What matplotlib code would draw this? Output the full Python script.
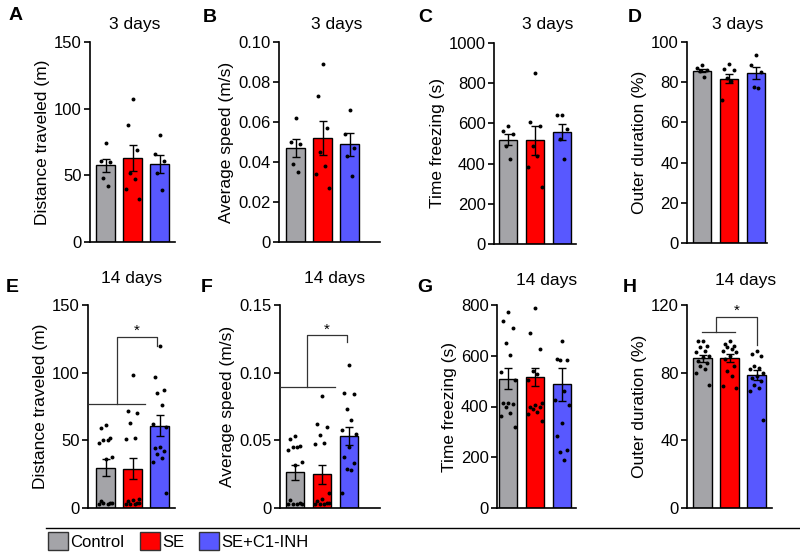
import matplotlib

matplotlib.use("Agg")
import matplotlib.pyplot as plt
from matplotlib.patches import Patch
from matplotlib.lines import Line2D
import numpy as np

plt.rcParams["font.family"] = ["Liberation Sans", "DejaVu Sans"]

groups = ["Control", "SE", "SE+C1-INH"]
colors = ["#a4a4a8", "#ff0000", "#5858ff"]

# --- data (dots per group, bar mean, SEM) ---
dots_A = [[74, 61, 60, 48, 42],
          [107, 88, 69, 52, 47, 40, 32],
          [80, 66, 61, 52, 39]]
mean_A = [57.4, 63.0, 58.6]
sem_A = [5.0, 10.0, 7.0]

dots_B = [[0.062, 0.050, 0.049, 0.039, 0.035],
          [0.089, 0.073, 0.057, 0.045, 0.038, 0.034, 0.027],
          [0.066, 0.054, 0.047, 0.043, 0.033]]
mean_B = [0.0472, 0.0522, 0.0488]
sem_B = [0.0045, 0.0085, 0.0056]

dots_C = [[585, 564, 548, 486, 425],
          [851, 607, 585, 486, 436, 381, 284],
          [640, 640, 572, 520, 423]]
mean_C = [519, 516, 557]
sem_C = [28, 72, 40]

dots_D = [[88.7, 87, 86, 85.4, 82.6],
          [89, 86.5, 86, 82, 80.8, 71.3],
          [93.5, 88.7, 85, 77.6, 77.3]]
mean_D = [85.7, 81.8, 84.6]
sem_D = [0.8, 2.3, 3.2]

dots_E = [[61, 59, 52, 50, 50, 48, 38, 36, 5, 4, 4, 3, 3, 4],
          [98, 72, 70, 63, 52, 51, 7, 6, 5, 4, 3, 3, 3, 4],
          [120, 97, 87, 85, 76, 62, 60, 45, 44, 42, 40, 37, 34, 11]]
mean_E = [29.9, 29.1, 60.7]
sem_E = [6.2, 7.9, 7.8]

dots_F = [[0.053, 0.051, 0.046, 0.045, 0.045, 0.043, 0.034, 0.032, 0.006, 0.004, 0.003, 0.003, 0.003, 0.003],
          [0.083, 0.062, 0.060, 0.054, 0.048, 0.047, 0.011, 0.007, 0.005, 0.004, 0.003, 0.003, 0.003, 0.004],
          [0.106, 0.085, 0.084, 0.073, 0.065, 0.058, 0.055, 0.045, 0.038, 0.033, 0.029, 0.028, 0.011]]
mean_F = [0.0264, 0.0249, 0.0533]
sem_F = [0.0056, 0.0072, 0.0068]

dots_G = [[772, 738, 708, 650, 603, 537, 505, 415, 412, 408, 400, 375, 362, 320],
          [790, 690, 625, 540, 530, 505, 412, 405, 400, 398, 392, 378, 370, 342],
          [660, 588, 585, 582, 463, 424, 405, 335, 283, 230, 220, 188]]
mean_G = [510, 517, 487]
sem_G = [41, 35, 64]

dots_H = [[99, 99, 96, 95, 93, 92, 90, 89, 87, 86, 84, 82, 80, 73],
          [99, 97, 96, 95, 94, 93, 92, 90, 88, 84, 81, 78, 72, 71],
          [93, 91, 90, 84, 83, 82, 80, 78, 77, 75, 73, 71, 69, 52]]
mean_H = [88.4, 88.6, 78.5]
sem_H = [2.2, 2.4, 3.0]

ylabels = {
    "A": "Distance traveled (m)", "B": "Average speed (m/s)",
    "C": "Time freezing (s)", "D": "Outer duration (%)",
    "E": "Distance traveled (m)", "F": "Average speed (m/s)",
    "G": "Time freezing (s)", "H": "Outer duration (%)",
}
yticks = {
    "A": [0, 50, 100, 150], "B": [0, 0.02, 0.04, 0.06, 0.08, 0.10],
    "C": [0, 200, 400, 600, 800, 1000], "D": [0, 20, 40, 60, 80, 100],
    "E": [0, 50, 100, 150], "F": [0, 0.05, 0.10, 0.15],
    "G": [0, 200, 400, 600, 800], "H": [0, 40, 80, 120],
}
ytick_labels = {
    "B": ["0", "0.02", "0.04", "0.06", "0.08", "0.10"],
    "F": ["0", "0.05", "0.10", "0.15"],
}

W, H = 800, 555
fig = plt.figure(figsize=(8, 5.55), dpi=100)

# geometry in pixels: left, right, top, bottom, centre of first bar
geom = {
    "A": (90, 175, 42, 242, 105.5), "B": (279, 380, 42, 242, 295.5),
    "C": (494, 576, 43, 244, 508), "D": (687, 767, 42, 243, 702),
    "E": (88, 175, 305, 508, 105.5), "F": (280, 380, 305, 508, 295),
    "G": (497, 576, 305, 508, 508), "H": (687, 772, 305, 508, 702.5),
}
letter_pos = {"A": (16, 16), "B": (210, 17), "C": (425, 18), "D": (635, 18),
              "E": (12, 287), "F": (207, 288), "G": (425, 288), "H": (630, 288)}
title_pos = {"A": (135, 25), "B": (337, 25), "C": (548, 25), "D": (738, 25),
             "E": (132, 279), "F": (335, 279), "G": (547, 281), "H": (746, 281)}

# significance brackets: (lower line x0, x1, y), (vertical x, top y), (right x, drop y), star (x, y)
brackets = {
    "E": ((-0.61, 1.46, 76.5), (0.41, 126.6), (1.9, 120), (1.15, 131)),
    "F": ((-0.59, 1.48, 0.0896), (0.43, 0.128), (1.91, 0.123), (1.17, 0.1315)),
    "H": ((-0.03, 1.2, 104.2), (0.5, 113.1), (2.0, 96.3), (1.27, 116.5)),
}

panels = {
    "A": (dots_A, mean_A, sem_A, 150), "B": (dots_B, mean_B, sem_B, 0.10),
    "C": (dots_C, mean_C, sem_C, 1000), "D": (dots_D, mean_D, sem_D, 100),
    "E": (dots_E, mean_E, sem_E, 150), "F": (dots_F, mean_F, sem_F, 0.15),
    "G": (dots_G, mean_G, sem_G, 800), "H": (dots_H, mean_H, sem_H, 120),
}

jitter = [0.0, -0.18, 0.18, -0.09, 0.09, -0.25, 0.25]
spacing = 27.0

for key, (dots, means, sems, ymax) in panels.items():
    l, r, t, b, c0 = geom[key]
    ax = fig.add_axes([l / W, 1 - b / H, (r - l) / W, (b - t) / H])
    x = np.arange(3)
    ax.bar(x, means, width=0.7, color=colors, edgecolor="black", linewidth=1.0, zorder=1)
    ax.errorbar(x, means, yerr=sems, fmt="none", ecolor="black", elinewidth=1.0,
                capsize=3, capthick=1.0, zorder=2)
    for i, vals in enumerate(dots):
        offs = [jitter[k % len(jitter)] for k in range(len(vals))]
        ax.scatter(i + np.array(offs), vals, s=8, color="black", zorder=3, linewidths=0)

    ax.set_xlim((l - c0) / spacing, (r - c0) / spacing)
    ax.set_ylim(0, ymax)
    ax.set_yticks(yticks[key])
    if key in ytick_labels:
        ax.set_yticklabels(ytick_labels[key])
    ax.set_xticks([])
    ax.spines["top"].set_visible(False)
    ax.spines["right"].set_visible(False)
    ax.spines["left"].set_linewidth(1.2)
    ax.spines["bottom"].set_linewidth(1.2)
    ax.tick_params(axis="y", direction="out", length=4, width=1.2, labelsize=12, pad=2)
    ax.set_ylabel(ylabels[key], fontsize=12.5, labelpad=3)

    if key in brackets:
        (x0, x1, yl), (xv, yt), (xr, yd), (xs, ys) = brackets[key]
        kw = dict(color="#333333", lw=0.9, zorder=4)
        ax.plot([x0, x1], [yl, yl], **kw)
        ax.plot([xv, xv, xr, xr], [yl, yt, yt, yd], **kw)
        ax.text(xs, ys, "*", ha="center", va="center", fontsize=11)

    lx, ly = letter_pos[key]
    fig.text(lx / W, 1 - ly / H, key, fontsize=14, fontweight="bold", ha="center", va="center")
    tx, ty = title_pos[key]
    fig.text(tx / W, 1 - ty / H, "3 days" if key in "ABCD" else "14 days",
             fontsize=12.5, ha="center", va="center")

# separator line and legend
fig.add_artist(Line2D([46 / W, 1.0], [1 - 528 / H, 1 - 528 / H],
                      transform=fig.transFigure, color="black", lw=1.0))
handles = [Patch(facecolor=c, edgecolor="#333333", linewidth=1.0) for c in colors]
fig.legend(handles, groups, loc="center left", bbox_to_anchor=(48 / W, 1 - 541 / H),
           ncol=3, frameon=False, handlelength=1.2, handleheight=1.2,
           handletextpad=0.15, columnspacing=0.9, fontsize=12,
           borderpad=0, borderaxespad=0)

fig.savefig("out.png", dpi=100)
